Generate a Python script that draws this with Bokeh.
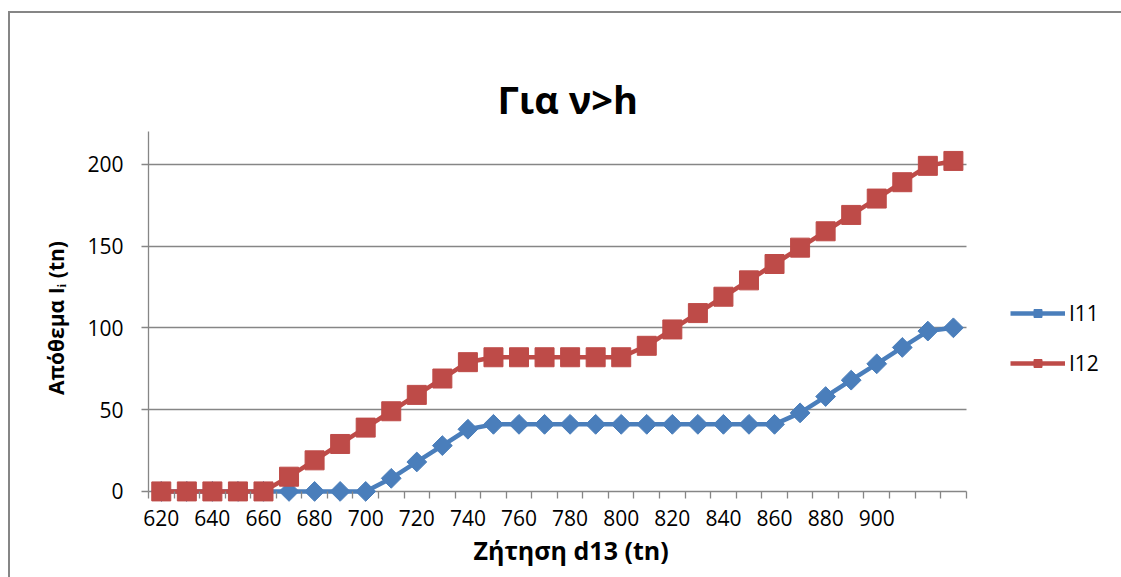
from bokeh.plotting import figure
from bokeh.models import Range1d, FixedTicker, Legend, LegendItem, LinearAxis, Title
from bokeh.embed import file_html
from bokeh.resources import INLINE

# ---- data ----
demand = [620, 630, 640, 650, 660, 670, 680, 690, 700, 710, 720, 730, 740, 750, 760, 770,
          780, 790, 800, 810, 820, 830, 840, 850, 860, 870, 880, 890, 900, 910, 920, 930]
i11 = [0, 0, 0, 0, 0, 0, 0, 0, 0, 8, 18, 28, 38, 41, 41, 41,
       41, 41, 41, 41, 41, 41, 41, 41, 41, 48, 58, 68, 78, 88, 98, 100]
i12 = [0, 0, 0, 0, 0, 9, 19, 29, 39, 49, 59, 69, 79, 82, 82, 82,
       82, 82, 82, 89, 99, 109, 119, 129, 139, 149, 159, 169, 179, 189, 199, 202]
x_labels = [620, 640, 660, 680, 700, 720, 740, 760, 780, 800, 820, 840, 860, 880, 900]
y_ticks = [0, 50, 100, 150, 200]
title_text = "Για ν>h"
x_title = "Ζήτηση d13 (tn)"
y_title = "Απόθεμα Iᵢ (tn)"
series_names = ["I11", "I12"]

BLUE = "#4A7EBB"
RED = "#BE4B48"
GRID = "#868686"
FONT = "Open Sans"

# plot-area geometry (pixels): axis from 148 to 964, frame continues to the right edge
X0, X1 = 615, 935            # category band edges of the axis
AX_LEFT, AX_RIGHT, PAGE_W = 148, 964, 1121
x_end = X0 + (X1 - X0) * (PAGE_W - AX_LEFT) / (AX_RIGHT - AX_LEFT)

p = figure(width=1113, height=566, output_backend="svg", toolbar_location=None,
           x_range=Range1d(X0, x_end), y_range=Range1d(-8, 220),
           min_border_left=138, min_border_right=0, min_border_top=118, min_border_bottom=75)
p.margin = (11, 0, 0, 8)
p.styles = {"border-top": "2px solid #868686", "border-left": "2px solid #868686",
            "box-sizing": "border-box"}
p.outline_line_color = None
p.background_fill_color = "white"
p.border_fill_color = "white"

# keep handles on the default axes before adding anything else
xa = p.below[0]
ya = p.left[0]

# invisible spacer between plot area and title
spacer = LinearAxis(ticker=FixedTicker(ticks=[], minor_ticks=[]),
                    axis_line_color=None, major_tick_line_color=None,
                    minor_tick_line_color=None, major_tick_out=40, major_tick_in=0,
                    minor_tick_out=0, minor_tick_in=0, major_label_standoff=0,
                    major_label_text_color=None)
p.add_layout(spacer, "above")

# title
p.title.text = title_text
p.title.align = "left"
p.title.offset = 349
p.title.vertical_align = "top"
p.title.text_font = FONT
p.title.text_font_size = "38px"
p.title.text_font_style = "bold"
p.title.text_color = "black"
p.title.standoff = 10

# x axis: its line at y=0 is the y grid line; ticks reach down from y=0
minor = [d - 5 for d in demand] + [demand[-1] + 5]
xa.ticker = FixedTicker(ticks=x_labels, minor_ticks=minor)
xa.major_tick_line_color = None
xa.major_tick_out = 0
xa.major_tick_in = 0
xa.minor_tick_out = -6
xa.minor_tick_in = 13
xa.minor_tick_line_color = GRID
xa.minor_tick_line_width = 1.3
xa.axis_line_color = None
xa.major_label_text_font = FONT
xa.major_label_text_font_size = "21px"
xa.major_label_text_color = "black"
xa.major_label_standoff = 5

# x axis title, placed under the tick labels
x_title_box = Title(text=x_title, align="left", offset=325, vertical_align="top",
                    standoff=8, text_font=FONT, text_font_size="25px",
                    text_font_style="bold", text_color="black")
p.add_layout(x_title_box, "below")

# y axis
ya.bounds = (0, 220)
ya.ticker = FixedTicker(ticks=y_ticks, minor_ticks=[])
ya.major_tick_out = 7
ya.major_tick_in = 0
ya.major_tick_line_color = GRID
ya.major_tick_line_width = 1.3
ya.minor_tick_line_color = None
ya.axis_line_color = GRID
ya.axis_line_width = 1.3
ya.major_label_text_font = FONT
ya.major_label_text_font_size = "21px"
ya.major_label_text_color = "black"
ya.major_label_standoff = 18
ya.axis_label = y_title
ya.axis_label_text_font = FONT
ya.axis_label_text_font_size = "21px"
ya.axis_label_text_font_style = "bold"
ya.axis_label_text_color = "black"
ya.axis_label_standoff = 14

p.xgrid.grid_line_color = None
yg = p.ygrid[0]
if "cross_bounds" in yg.properties():
    yg.grid_line_color = GRID
    yg.grid_line_width = 1.3
    yg.cross_bounds = (X0, X1)
else:
    yg.grid_line_color = None
    p.segment(x0=[X0] * len(y_ticks), x1=[X1] * len(y_ticks), y0=y_ticks, y1=y_ticks,
              line_color=GRID, line_width=1.3)

# series
l1 = p.line(demand, i11, line_color=BLUE, line_width=4.5)
s1 = p.scatter(demand, i11, marker="square", angle=0.785398, size=14,
               fill_color=BLUE, line_color=BLUE)
l2 = p.line(demand, i12, line_color=RED, line_width=4.5)
s2 = p.scatter(demand, i12, marker="square", size=19, fill_color=RED, line_color=RED)

legend = Legend(items=[LegendItem(label=series_names[0], renderers=[l1, s1]),
                       LegendItem(label=series_names[1], renderers=[l2, s2])],
                location=(862, 127), orientation="vertical",
                glyph_width=55, glyph_height=20, label_height=20, spacing=22,
                label_standoff=4, padding=0, margin=0,
                border_line_color=None, background_fill_alpha=0,
                label_text_font=FONT, label_text_font_size="21px", label_text_color="black")
p.add_layout(legend, "center")

open("out.html", "w").write(file_html(p, INLINE))
